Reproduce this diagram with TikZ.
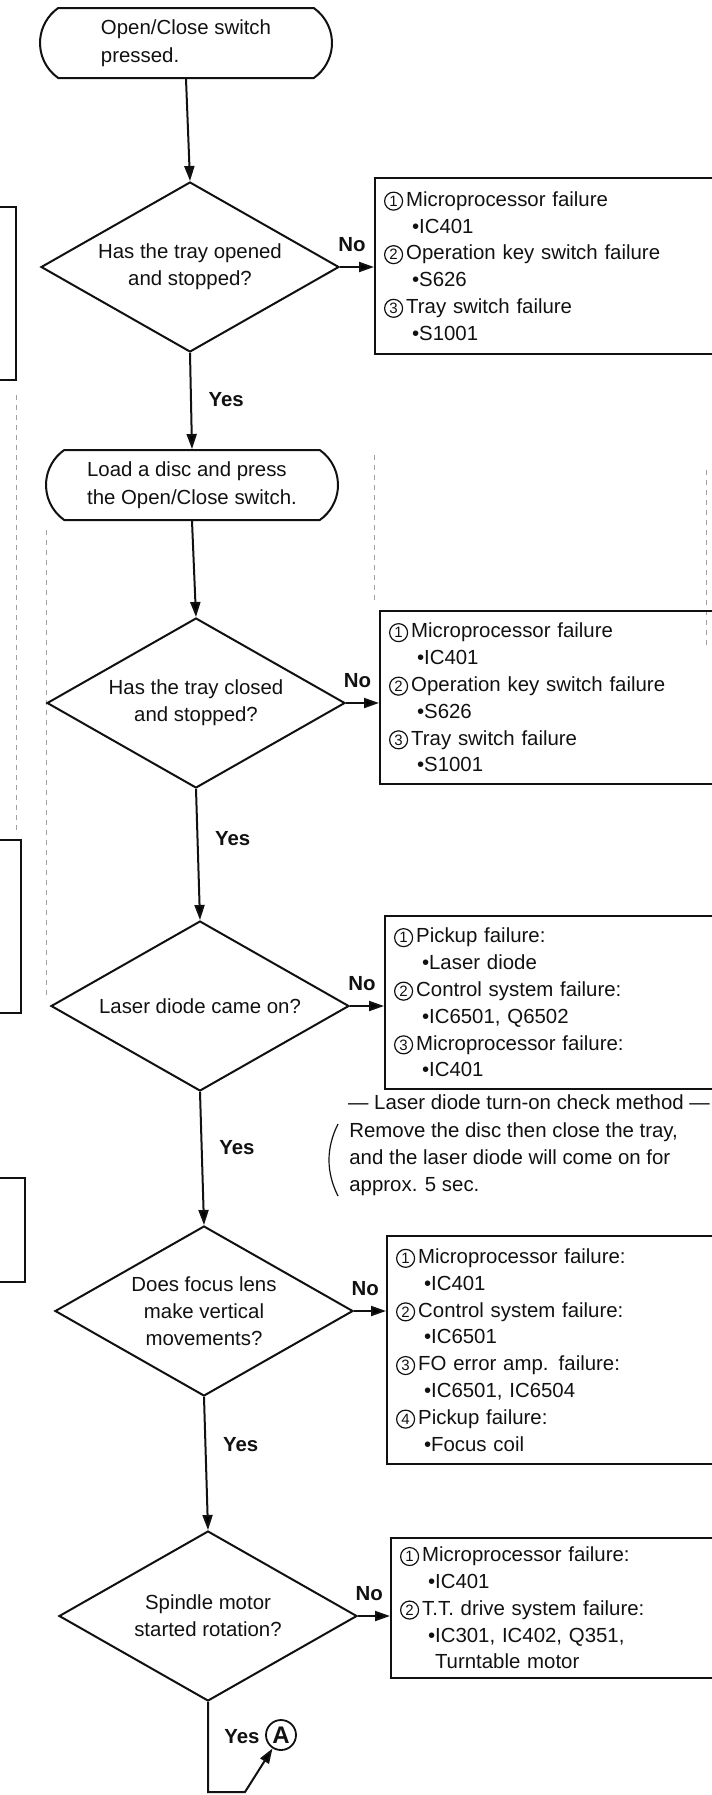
\documentclass[tikz,border=0pt]{standalone}
\usepackage{fontspec}
\setmainfont{Liberation Sans}
\usetikzlibrary{arrows.meta, positioning, shapes.geometric, shapes.misc}
\definecolor{ink}{HTML}{111111}
\definecolor{smudge}{HTML}{A0A0A0}
\newcommand{\cnum}[1]{\tikz[baseline=(cn.base)]\node[circle, draw=ink, line width=0.6pt,
  inner sep=0pt, minimum size=9pt, font=\fontsize{7.5}{7.5}\selectfont] (cn) {#1};\hspace{1.5pt}}
\newcommand{\itm}[1]{\hspace*{14pt}•#1}

\begin{document}
\begin{tikzpicture}[x=0.5pt, y=-0.5pt,
  >={Triangle[length=7.5pt, width=5pt]},
  arr/.style={draw=ink, line width=1pt, ->},
  term/.style={rounded rectangle, rounded rectangle arc length=110, draw=ink, line width=1pt,
    minimum width=150pt, minimum height=35pt, inner sep=2pt, align=left, text=ink,
    font=\fontsize{10.2}{14}\selectfont},
  dia/.style={diamond, aspect=1.75, draw=ink, line width=1pt, minimum width=149pt,
    minimum height=85pt, inner sep=0pt, align=center, text=ink,
    font=\fontsize{10.2}{13.4}\selectfont},
  fail/.style={rectangle, draw=ink, line width=1pt, anchor=north west, text width=170pt,
    inner xsep=4.5pt, inner ysep=2pt, align=left, text=ink,
    font=\fontsize{10.2}{13.4}\selectfont},
  lbl/.style={font=\fontsize{10.2}{12}\selectfont\bfseries, text=ink},
  note/.style={font=\fontsize{10.2}{13.6}\selectfont, text=ink},
  scrap/.style={draw=ink, line width=1pt},
  dots/.style={draw=smudge, line width=0.5pt, dash pattern=on 2.5pt off 2.5pt},
]

% Page frame
\useasboundingbox (0,0) rectangle (712,1795);
\clip (0,0) rectangle (712,1795);

% Scraps of the next page (left edge)
\draw[scrap] (-10,207) rectangle (16,380);
\draw[scrap] (-10,840) rectangle (21,1013);
\draw[scrap] (-10,1178) rectangle (25,1282);
\draw[dots] (16,395) -- (16,835);
\draw[dots] (46,530) -- (46,1000);
\draw[dots] (374,455) -- (374,605);
\draw[dots] (706,470) -- (706,650);

% === Main flow ===

% Start
\node[term] (t1) at (186,43) {Open/Close switch\\pressed.};

% Check 1: tray opened
\node[dia] (d1) at (190,267) {Has the tray opened\\and stopped?};
\draw[arr] (t1.south) -- (d1.north);

\node[fail, minimum height=88pt] (b1) at (374,177)
  {\cnum{1}Microprocessor failure\\ \itm{IC401}\\
   \cnum{2}Operation key switch failure\\ \itm{S626}\\
   \cnum{3}Tray switch failure\\ \itm{S1001}};
\draw[arr] (d1.east) -- node[pos=0.35, above=4pt, lbl] {No} (d1.east -| b1.west);

% Load disc
\node[term] (t2) at (192,485) {Load a disc and press\\the Open/Close switch.};
\draw[arr] (d1.south) -- node[pos=0.48, right=5pt, lbl] {Yes} (t2.north);

% Check 2: tray closed
\node[dia] (d2) at (196,703) {Has the tray closed\\and stopped?};
\draw[arr] (t2.south) -- (d2.north);

\node[fail, minimum height=86.5pt] (b2) at (379,610)
  {\cnum{1}Microprocessor failure\\ \itm{IC401}\\
   \cnum{2}Operation key switch failure\\ \itm{S626}\\
   \cnum{3}Tray switch failure\\ \itm{S1001}};
\draw[arr] (d2.east) -- node[pos=0.35, above=4pt, lbl] {No} (d2.east -| b2.west);

% Check 3: laser diode
\node[dia] (d3) at (200,1006) {Laser diode came on?};
\draw[arr] (d2.south) -- node[pos=0.375, right=5pt, lbl] {Yes} (d3.north);

\node[fail, minimum height=86.5pt] (b3) at (384,915)
  {\cnum{1}Pickup failure:\\ \itm{Laser diode}\\
   \cnum{2}Control system failure:\\ \itm{IC6501, Q6502}\\
   \cnum{3}Microprocessor failure:\\ \itm{IC401}};
\draw[arr] (d3.east) -- node[pos=0.35, above=4pt, lbl] {No} (d3.east -| b3.west);

% Check method note
\node[note] (ntitle) at (529,1102) {— Laser diode turn-on check method —};
\node[note, anchor=north west, inner sep=0pt, align=left] (nbody) at (349,1122)
  {Remove the disc then close the tray,\\and the laser diode will come on for\\approx. 5 sec.};
\draw[ink, line width=0.6pt] (338,1124) .. controls (326,1148) and (326,1172) .. (338,1196);

% Check 4: focus lens
\node[dia] (d4) at (204,1311) {Does focus lens\\make vertical\\movements?};
\draw[arr] (d3.south) -- node[pos=0.42, right=5pt, lbl] {Yes} (d4.north);

\node[fail, minimum height=114pt] (b4) at (386,1235)
  {\cnum{1}Microprocessor failure:\\ \itm{IC401}\\
   \cnum{2}Control system failure:\\ \itm{IC6501}\\
   \cnum{3}FO error amp. failure:\\ \itm{IC6501, IC6504}\\
   \cnum{4}Pickup failure:\\ \itm{Focus coil}};
\draw[arr] (d4.east) -- node[pos=0.35, above=4pt, lbl] {No} (d4.east -| b4.west);

% Check 5: spindle motor
\node[dia] (d5) at (208,1616) {Spindle motor\\started rotation?};
\draw[arr] (d4.south) -- node[pos=0.36, right=5pt, lbl] {Yes} (d5.north);

\node[fail, minimum height=70pt] (b5) at (390,1537)
  {\cnum{1}Microprocessor failure:\\ \itm{IC401}\\
   \cnum{2}T.T. drive system failure:\\ \itm{IC301, IC402, Q351,}\\
   \hspace*{17.5pt}Turntable motor};
\draw[arr] (d5.east) -- node[pos=0.35, above=4pt, lbl] {No} (d5.east -| b5.west);

% Exit to A
\node[lbl] (yes5) at (242,1737) {Yes};
\node[circle, draw=ink, line width=0.9pt, minimum size=15pt, inner sep=0pt,
  font=\fontsize{12}{12}\selectfont\bfseries, text=ink] (ca) at (281,1735) {A};
\coordinate (turn) at (245,1792);
\draw[arr] (d5.south) |- (turn) -- (ca);

\end{tikzpicture}
\end{document}
